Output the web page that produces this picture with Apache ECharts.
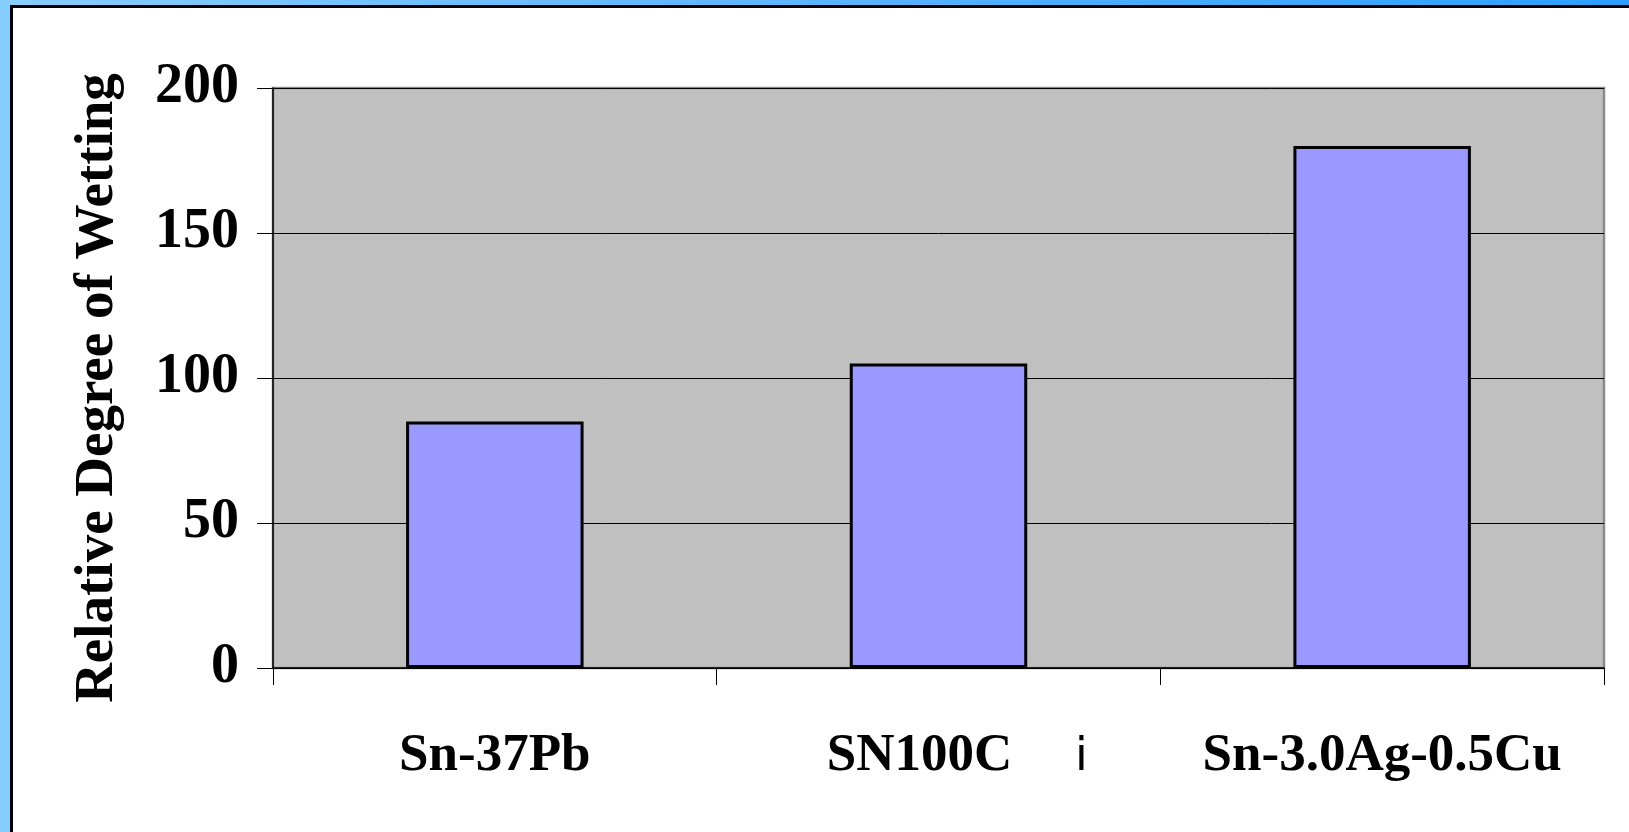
<!DOCTYPE html>
<html>
<head>
<meta charset="utf-8">
<script src="https://cdn.jsdelivr.net/npm/echarts@6/dist/echarts.min.js"></script>
<style>
html,body{margin:0;padding:0;width:1629px;height:832px;overflow:hidden;}
body{background:linear-gradient(to right,#86cdff,#5ab4ff 50%,#2c9fff);}
#frame{position:absolute;left:10px;top:5px;width:1619px;height:827px;background:#fff;border-left:3px solid #000;border-top:3px solid #000;box-sizing:border-box;}
#chart{position:absolute;left:0;top:0;width:1629px;height:832px;}
</style>
</head>
<body>
<div id="frame"></div>
<div id="chart"></div>
<script>
const categories = ['Sn-37Pb', 'SN100C', 'Sn-3.0Ag-0.5Cu'];
const wettingValues = [85, 105, 180];
const yTicks = { min: 0, max: 200, interval: 50 };
const yAxisTitle = 'Relative Degree of Wetting';
const strayMark = 'i';

const chart = echarts.init(document.getElementById('chart'), null, { renderer: 'canvas' });
const serif = '"Liberation Serif", "Times New Roman", serif';
chart.setOption({
  backgroundColor: 'transparent',
  animation: false,
  grid: { left: 273, right: 25, top: 88, bottom: 164, show: true, backgroundColor: '#c0c0c0', borderColor: '#8a8a8a', borderWidth: 2.5 },
  xAxis: {
    type: 'category',
    data: categories,
    axisLine: { show: true, lineStyle: { color: '#000', width: 1.5 } },
    axisTick: { show: true, alignWithLabel: false, interval: 0, length: 17, lineStyle: { color: '#000', width: 1 } },
    axisLabel: {
      interval: 0,
      hideOverlap: false,
      color: '#000', fontFamily: serif, fontWeight: 'bold', fontSize: 53, margin: 62,
      formatter: function (v) { return v === 'SN100C' ? '{a|' + v + '}{g|}' : v; },
      rich: {
        a: { color: '#000', fontFamily: serif, fontWeight: 'bold', fontSize: 53 },
        g: { width: 38 }
      }
    }
  },
  yAxis: {
    type: 'value',
    min: yTicks.min, max: yTicks.max, interval: yTicks.interval,
    name: yAxisTitle,
    nameLocation: 'middle',
    nameGap: 148,
    nameRotate: 90,
    nameTextStyle: { color: '#000', fontFamily: serif, fontWeight: 'bold', fontSize: 55, padding: [0, 20, 0, 0] },
    axisLine: { show: true, lineStyle: { color: '#000', width: 1.5 } },
    axisTick: { show: true, length: 16, lineStyle: { color: '#000', width: 1 } },
    axisLabel: { color: '#000', fontFamily: serif, fontWeight: 'bold', fontSize: 56, margin: 34 },
    splitLine: { show: true, lineStyle: { color: '#000', width: 1 } }
  },
  graphic: [{
    type: 'text',
    left: 1075,
    top: 735,
    style: { text: strayMark, fill: '#000', font: '46px "DejaVu Sans", sans-serif' }
  }],
  series: [{
    type: 'bar',
    data: wettingValues,
    barWidth: '40%',
    itemStyle: { color: '#9999ff', borderColor: '#000', borderWidth: 3 }
  }]
});
</script>
</body>
</html>
